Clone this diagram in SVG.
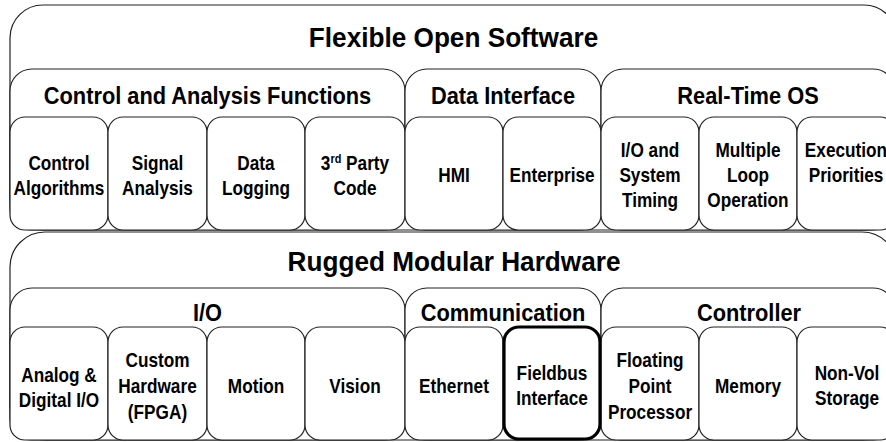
<svg xmlns="http://www.w3.org/2000/svg" width="886" height="442" viewBox="0 0 886 442">
<style>
rect{fill:#fff;stroke:#222;stroke-width:1.2}
.hl{stroke:#000;stroke-width:3.2}
text{font-family:"Liberation Sans",Arial,sans-serif;font-weight:bold;fill:#000;text-anchor:middle}
.t{font-size:28px}
.h{font-size:24.5px}
.s{font-size:20.5px}
</style>
<rect width="886" height="442" style="fill:#fff;stroke:none"/>

<!-- Software section -->
<g id="software">
<rect x="10" y="5" width="887" height="225" rx="33"/>
<text class="t" transform="translate(453.5 0) scale(.935 1)" x="0" y="47">Flexible Open Software</text>
</g>
<g id="control-analysis">
<rect x="10" y="69" width="395" height="161" rx="22"/>
<text class="h" transform="translate(207.5 0) scale(.89 1)" x="0" y="104">Control and Analysis Functions</text>
</g>
<g id="data-interface">
<rect x="405" y="69" width="196" height="161" rx="22"/>
<text class="h" transform="translate(503 0) scale(.89 1)" x="0" y="104">Data Interface</text>
</g>
<g id="rtos">
<rect x="601" y="69" width="294" height="161" rx="22"/>
<text class="h" transform="translate(748 0) scale(.89 1)" x="0" y="104">Real-Time OS</text>
</g>

<g id="control-algorithms">
<rect x="10" y="117" width="98" height="113" rx="15"/>
<text class="s" transform="translate(59 0) scale(.84 1)"><tspan x="0" y="170">Control</tspan><tspan x="0" y="195">Algorithms</tspan></text>
</g>
<g id="signal-analysis">
<rect x="108" y="117" width="99" height="113" rx="15"/>
<text class="s" transform="translate(157.5 0) scale(.84 1)"><tspan x="0" y="170">Signal</tspan><tspan x="0" y="195">Analysis</tspan></text>
</g>
<g id="data-logging">
<rect x="207" y="117" width="98" height="113" rx="15"/>
<text class="s" transform="translate(256 0) scale(.84 1)"><tspan x="0" y="170">Data</tspan><tspan x="0" y="195">Logging</tspan></text>
</g>
<g id="third-party">
<rect x="305" y="117" width="100" height="113" rx="15"/>
<text class="s" transform="translate(355 0) scale(.84 1)"><tspan x="0" y="170">3<tspan style="font-size:13px" dy="-7">rd</tspan><tspan dy="7"> Party</tspan></tspan><tspan x="0" y="195">Code</tspan></text>
</g>
<g id="hmi">
<rect x="405" y="117" width="98" height="113" rx="15"/>
<text class="s" transform="translate(454 0) scale(.84 1)" x="0" y="182">HMI</text>
</g>
<g id="enterprise">
<rect x="503" y="117" width="98" height="113" rx="15"/>
<text class="s" transform="translate(552 0) scale(.84 1)" x="0" y="182">Enterprise</text>
</g>
<g id="io-timing">
<rect x="601" y="117" width="98" height="113" rx="15"/>
<text class="s" transform="translate(650 0) scale(.84 1)"><tspan x="0" y="157">I/O and</tspan><tspan x="0" y="182">System</tspan><tspan x="0" y="207">Timing</tspan></text>
</g>
<g id="multiple-loop">
<rect x="699" y="117" width="98" height="113" rx="15"/>
<text class="s" transform="translate(748 0) scale(.84 1)"><tspan x="0" y="157">Multiple</tspan><tspan x="0" y="182">Loop</tspan><tspan x="0" y="207">Operation</tspan></text>
</g>
<g id="execution-priorities">
<rect x="797" y="117" width="98" height="113" rx="15"/>
<text class="s" transform="translate(846 0) scale(.84 1)"><tspan x="0" y="157">Execution</tspan><tspan x="0" y="182">Priorities</tspan></text>
</g>

<!-- Hardware section -->
<g id="hardware">
<rect x="10" y="232" width="887" height="208" rx="35"/>
<text class="t" transform="translate(454 0) scale(.935 1)" x="0" y="271">Rugged Modular Hardware</text>
</g>
<g id="io">
<rect x="10" y="288" width="395" height="152" rx="22"/>
<text class="h" transform="translate(207.5 0) scale(.89 1)" x="0" y="321">I/O</text>
</g>
<g id="communication">
<rect x="405" y="288" width="196" height="152" rx="22"/>
<text class="h" transform="translate(503 0) scale(.89 1)" x="0" y="321">Communication</text>
</g>
<g id="controller">
<rect x="601" y="288" width="294" height="152" rx="22"/>
<text class="h" transform="translate(749 0) scale(.89 1)" x="0" y="321">Controller</text>
</g>

<g id="analog-digital">
<rect x="10" y="327" width="98" height="113" rx="15"/>
<text class="s" transform="translate(59 0) scale(.84 1)"><tspan x="0" y="382">Analog &amp;</tspan><tspan x="0" y="407">Digital I/O</tspan></text>
</g>
<g id="custom-hardware">
<rect x="108" y="327" width="99" height="113" rx="15"/>
<text class="s" transform="translate(157.5 0) scale(.84 1)"><tspan x="0" y="367">Custom</tspan><tspan x="0" y="393">Hardware</tspan><tspan x="0" y="419">(FPGA)</tspan></text>
</g>
<g id="motion">
<rect x="207" y="327" width="98" height="113" rx="15"/>
<text class="s" transform="translate(256 0) scale(.84 1)" x="0" y="393">Motion</text>
</g>
<g id="vision">
<rect x="305" y="327" width="100" height="113" rx="15"/>
<text class="s" transform="translate(355 0) scale(.84 1)" x="0" y="393">Vision</text>
</g>
<g id="ethernet">
<rect x="405" y="327" width="98" height="113" rx="15"/>
<text class="s" transform="translate(454 0) scale(.84 1)" x="0" y="393">Ethernet</text>
</g>
<g id="floating-point">
<rect x="601" y="327" width="98" height="113" rx="15"/>
<text class="s" transform="translate(650 0) scale(.84 1)"><tspan x="0" y="367">Floating</tspan><tspan x="0" y="393">Point</tspan><tspan x="0" y="419">Processor</tspan></text>
</g>
<g id="memory">
<rect x="699" y="327" width="98" height="113" rx="15"/>
<text class="s" transform="translate(748 0) scale(.84 1)" x="0" y="393">Memory</text>
</g>
<g id="non-vol-storage">
<rect x="797" y="327" width="98" height="113" rx="15"/>
<text class="s" transform="translate(847 0) scale(.84 1)"><tspan x="0" y="380">Non-Vol</tspan><tspan x="0" y="405">Storage</tspan></text>
</g>
<g id="fieldbus-interface">
<rect class="hl" x="504" y="327" width="96" height="112" rx="15"/>
<text class="s" transform="translate(552 0) scale(.84 1)"><tspan x="0" y="380">Fieldbus</tspan><tspan x="0" y="405">Interface</tspan></text>
</g>
</svg>
